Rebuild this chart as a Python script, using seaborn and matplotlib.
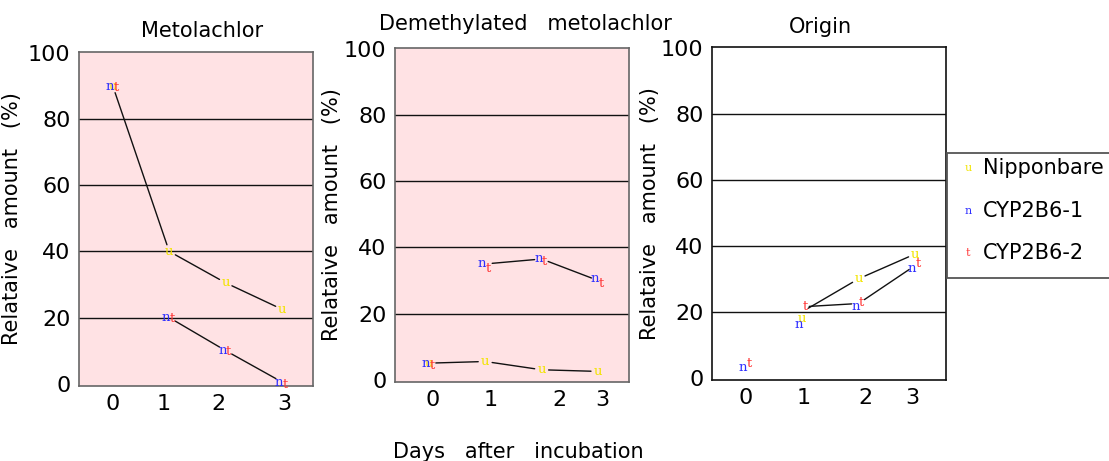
import numpy as np
import matplotlib
matplotlib.use("Agg")
import matplotlib.pyplot as plt
import matplotlib.transforms as mtransforms
from matplotlib.patches import Rectangle
import seaborn as sns

# ## Data
days = [0, 1, 2, 3]
panel_titles = ["Metolachlor", "Demethylated   metolachlor", "Origin"]
series_names = ["Nipponbare", "CYP2B6-1", "CYP2B6-2"]
series_glyphs = ["u", "n", "t"]

# relative amount (%) per panel, one list per line
metolachlor_nip = [90, 40, 30.5, 22.5]
metolachlor_cyp1 = [90, 20, 10, 0.5]
metolachlor_cyp2 = [90, 20, 10, 0]

demethyl_nip = [5, 5.5, 3, 2.5]
demethyl_cyp1 = [5, 35, 36.5, 30.5]
demethyl_cyp2 = [4.5, 34, 36, 29.5]

origin_nip = [np.nan, 18, 30, 37.5]
origin_cyp1 = [3, 16, 21.5, 33]
origin_cyp2 = [4.5, 22, 23, 35]

# connecting lines drawn in the figure
metolachlor_line_a = [90, 40, 30.5, 22.5]
metolachlor_line_b = [np.nan, 20, 10, 0.5]
demethyl_line_a = [5, 5.5, 3, 2.5]
demethyl_line_b = [np.nan, 35, 36.5, 30]
origin_line_a = [np.nan, 20, 30, 37.5]
origin_line_b = [np.nan, 21.5, 22.5, 34]

yticks = [0, 20, 40, 60, 80, 100]
xtick_labels = ["0", "1", "2", "3"]

panels = [
    [metolachlor_nip, metolachlor_cyp1, metolachlor_cyp2],
    [demethyl_nip, demethyl_cyp1, demethyl_cyp2],
    [origin_nip, origin_cyp1, origin_cyp2],
]
panel_lines = [
    [metolachlor_line_a, metolachlor_line_b],
    [demethyl_line_a, demethyl_line_b],
    [origin_line_a, origin_line_b],
]

# ## Style / layout
sns.set_theme(style="white", rc={"text.color": "black", "axes.labelcolor": "black",
                                 "xtick.color": "black", "ytick.color": "black"})
plt.rcParams['font.family'] = ['DejaVu Sans']

colors = ["#F2E400", "#2E2EFF", "#FF3838"]
marker_dx = [0, -3, 3]   # pixel nudges so the overlapping glyphs show
marker_dy = [0, 0, -1]
backgrounds = ["#FFE2E4", "#FFE2E4", "white"]
spine_colors = ["#666666", "#666666", "#111111"]

W, H = 1109, 461
# axes boxes in pixels: left, right, top, bottom
boxes = [(79, 313, 52, 386), (395, 629, 48, 382), (712, 946, 47, 380)]
tick_pos = [[0, 0.9, 1.87, 3.05], [0.07, 1.1, 2.31, 3.08], [0, 1.03, 2.13, 2.95]]
ylabel_x = [-0.244, -0.226, -0.222]
title_xy = [(202, 31), (525, 24), (820, 27)]

fig = plt.figure(figsize=(W / 100, H / 100), dpi=100)
fig.patch.set_facecolor("white")

axes = []
for i, (l, r, t, b) in enumerate(boxes):
    ax = fig.add_axes([l / W, 1 - b / H, (r - l) / W, (b - t) / H])
    ax.set_facecolor(backgrounds[i])
    ax.set_xlim(-0.6, 3.55)
    ax.set_ylim(-0.7, 100.3)
    for s in ax.spines.values():
        s.set_color(spine_colors[i])
        s.set_linewidth(1.2)
    for g in yticks[1:-1]:
        ax.axhline(g, color="#111111", lw=1.0, zorder=1)
    ax.set_yticks(yticks)
    ax.set_yticklabels([str(v) for v in yticks], fontsize=16)
    ax.set_xticks(tick_pos[i])
    ax.set_xticklabels(xtick_labels, fontsize=16)
    ax.tick_params(length=0, pad=6, colors="black")
    ax.set_ylabel("Relataive   amount   (%)", fontsize=15, color="black")
    ax.yaxis.set_label_coords(ylabel_x[i], 0.5)
    fig.text(title_xy[i][0] / W, 1 - title_xy[i][1] / H, panel_titles[i],
             fontsize=15, ha="center", va="center", color="black")
    axes.append(ax)

fig.canvas.draw()

# ## Connecting lines, shortened so they stop short of the glyphs
gap = 7
for ax, lines in zip(axes, panel_lines):
    inv = ax.transData.inverted()
    for vals in lines:
        for k in range(len(days) - 1):
            if np.isnan(vals[k]) or np.isnan(vals[k + 1]):
                continue
            p0 = ax.transData.transform((days[k], vals[k]))
            p1 = ax.transData.transform((days[k + 1], vals[k + 1]))
            d = p1 - p0
            n = np.hypot(*d)
            a = inv.transform(p0 + d / n * gap)
            c = inv.transform(p1 - d / n * gap)
            ax.plot([a[0], c[0]], [a[1], c[1]], color="#111111", lw=1.0, zorder=2)

# ## Glyph markers
for ax, series in zip(axes, panels):
    for j, vals in enumerate(series):
        off = mtransforms.offset_copy(ax.transData, fig=fig,
                                      x=marker_dx[j], y=marker_dy[j], units="dots")
        for d, v in zip(days, vals):
            if np.isnan(v):
                continue
            ax.text(d, v, series_glyphs[j], transform=off, color=colors[j],
                    fontsize=9.5, family="DejaVu Serif", ha="center", va="center",
                    zorder=3)

# ## Shared x label
fig.text(518 / W, 1 - 452 / H, "Days   after   incubation", fontsize=15,
         ha="center", va="center", color="black")

# ## Legend box (runs off the right edge like the original)
fig.patches.append(Rectangle((947 / W, 1 - 278 / H), 200 / W, 125 / H,
                             transform=fig.transFigure, facecolor="white",
                             edgecolor="#555555", lw=1.3, zorder=0))
legend_y = [168, 211, 253]
for j in range(3):
    fig.text(968 / W, 1 - legend_y[j] / H, series_glyphs[j], color=colors[j],
             fontsize=8, family="DejaVu Serif", ha="center", va="center")
    fig.text(983 / W, 1 - legend_y[j] / H, series_names[j], fontsize=15,
             ha="left", va="center", color="black")

fig.savefig("out.png", dpi=100)
